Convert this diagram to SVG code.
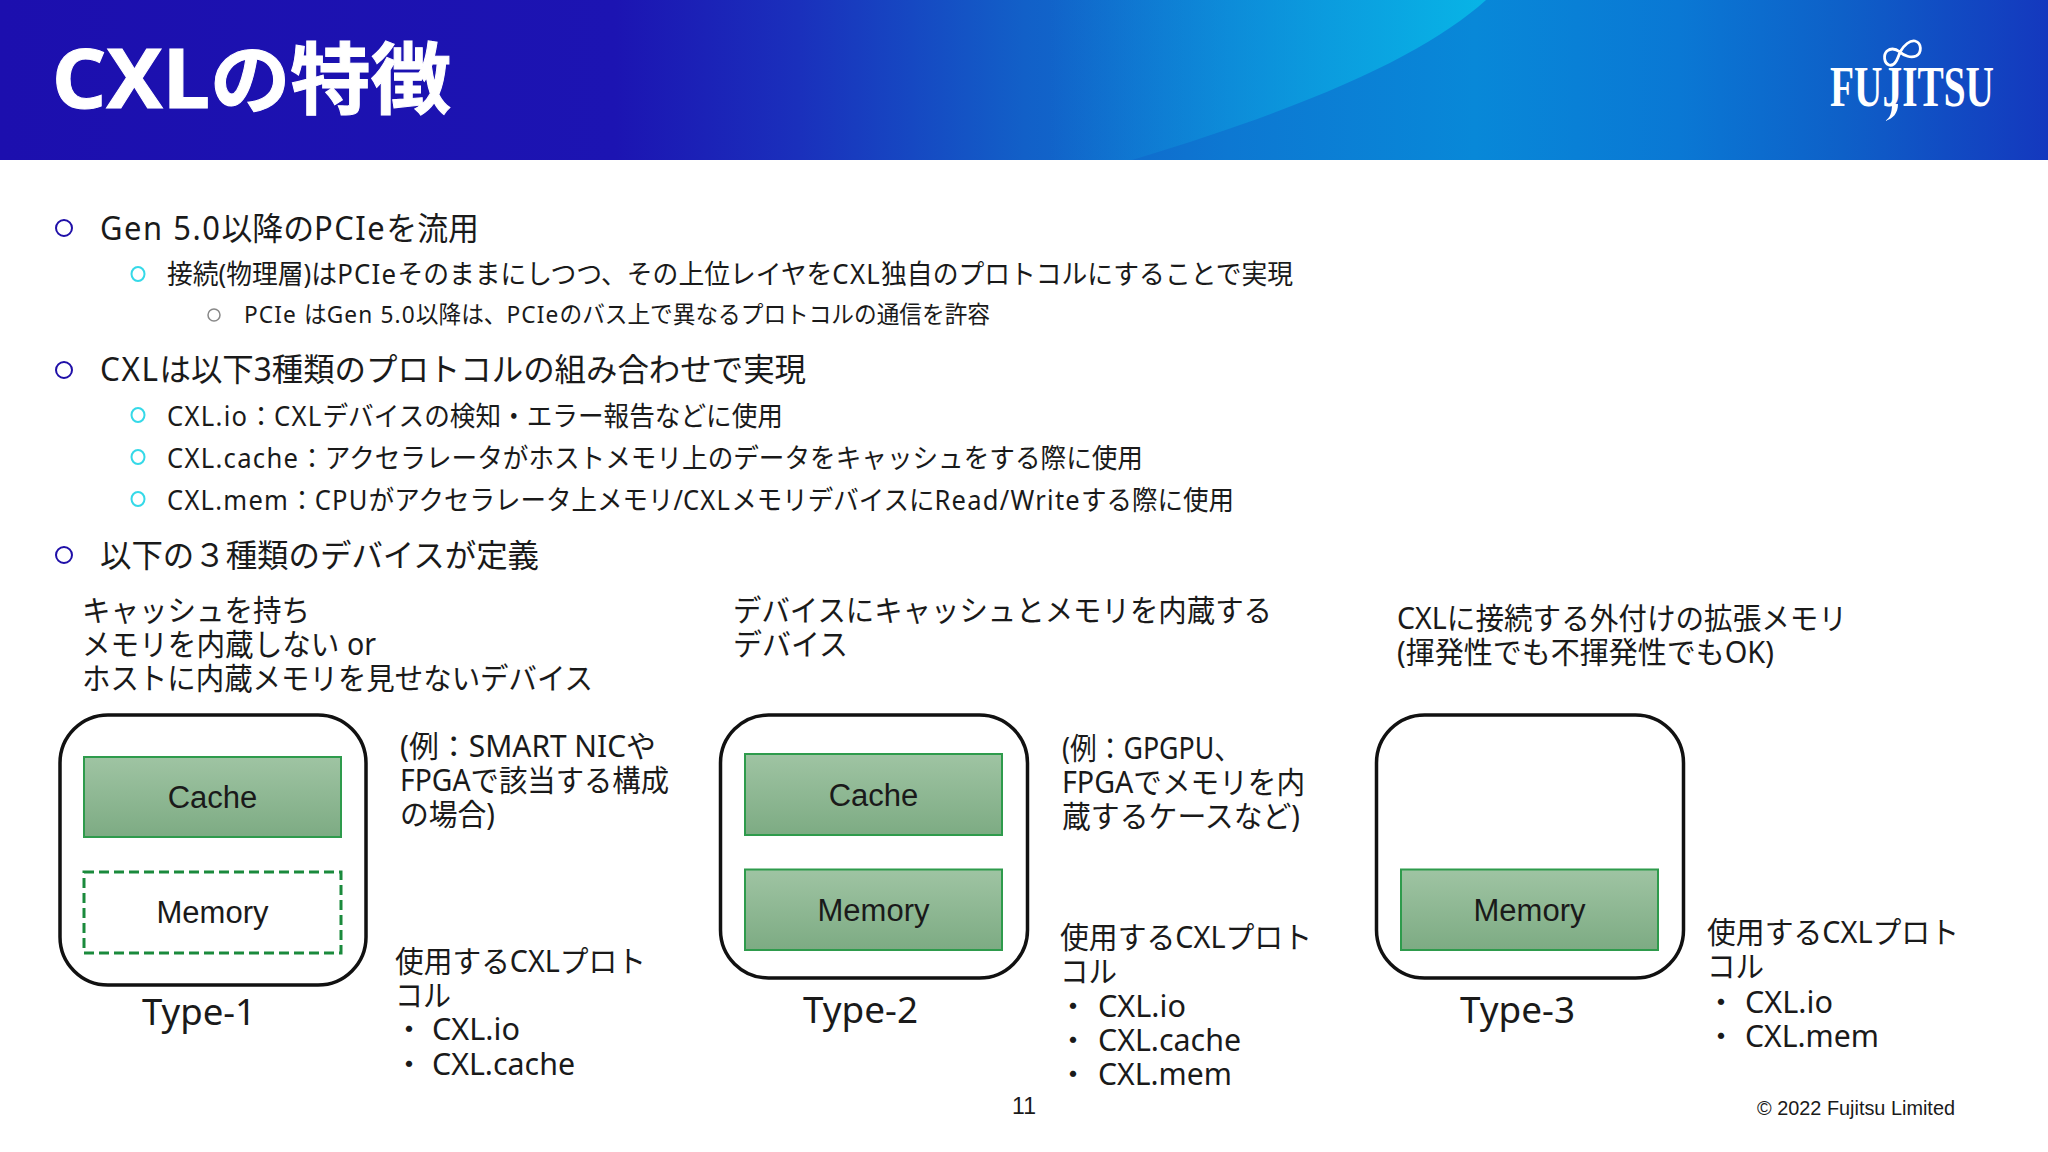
<svg xmlns="http://www.w3.org/2000/svg" width="2048" height="1152" viewBox="0 0 2048 1152">
<defs>
<linearGradient id="hdr" x1="0" y1="0" x2="1" y2="0">
<stop offset="0" stop-color="#1c0fae"/><stop offset="0.3" stop-color="#1c14b2"/><stop offset="0.39" stop-color="#1a30bc"/><stop offset="0.5" stop-color="#1260c8"/><stop offset="0.6" stop-color="#0d78d2"/><stop offset="0.72" stop-color="#0888d8"/><stop offset="0.82" stop-color="#0a78d4"/><stop offset="0.9" stop-color="#0e60c8"/><stop offset="1" stop-color="#1438be"/>
</linearGradient>
<linearGradient id="arc" gradientUnits="userSpaceOnUse" x1="1050" y1="0" x2="1486" y2="0">
<stop offset="0" stop-color="#10a0e0" stop-opacity="0"/><stop offset="1" stop-color="#08b4e6"/>
</linearGradient>
<linearGradient id="green" x1="0" y1="0" x2="0" y2="1">
<stop offset="0" stop-color="#9fc4a3"/><stop offset="1" stop-color="#7dab83"/>
</linearGradient>
</defs>
<style>
text{font-family:"Noto Sans","Noto Sans CJK JP",sans-serif;fill:#1a1a1a}
.t{font-size:30px}
.a{font-size:32px}
.b{font-size:27px}
.c{font-size:24px}
.l{letter-spacing:.05em}
.box{fill:url(#green);stroke:#2e9b4c;stroke-width:2}
.dash{fill:#fff;stroke:#1a8a3c;stroke-width:3;stroke-dasharray:10 5}
.outer{fill:#fff;stroke:#111;stroke-width:3.5}
.lab{font-family:"Liberation Sans",sans-serif;font-size:31px;text-anchor:middle}
.ty{font-size:36px}
.ra{fill:none;stroke:#1f0fa8;stroke-width:2}
.rb{fill:none;stroke:#35d9e8;stroke-width:2}
.rc{fill:none;stroke:#888;stroke-width:1.5}
.foot{font-family:"Liberation Sans",sans-serif;font-size:20px}
</style>
<rect width="2048" height="1152" fill="#fff"/>
<g id="header">
<rect width="2048" height="160" fill="url(#hdr)"/>
<path d="M1486 0C1430 50 1330 100 1132 160H1050V0Z" fill="url(#arc)"/>
<text x="52" y="108" style="font-size:78px;font-weight:700;fill:#fff;stroke:#fff;stroke-width:1" textLength="399" lengthAdjust="spacingAndGlyphs"><tspan style="font-size:82px">CXL</tspan>の特徴</text>
</g>
<g id="logo">
<path d="M1900 52C1904 45 1910 40 1915 41C1922 43 1922 53 1916 56C1911 58 1904 56 1900 52C1896 49 1891 48 1887 51C1883 55 1884 63 1889 65C1895 67 1898 58 1900 52Z" fill="none" stroke="#fff" stroke-width="2.800"/>
<text x="1830" y="106" style="font-family:'Liberation Serif',serif;font-weight:700;font-size:57px;fill:#fff" textLength="164" lengthAdjust="spacingAndGlyphs">FUJITSU</text>
<path d="M1892 104C1892 113 1890 118 1885 121C1893 119 1898 113 1898 104Z" fill="#fff"/>
</g>
<g id="bullets">
<ellipse class="ra" cx="64" cy="228" rx="8" ry="8"/>
<ellipse class="rb" cx="138" cy="274" rx="6.500" ry="7"/>
<ellipse class="rc" cx="214" cy="315" rx="6" ry="6"/>
<ellipse class="ra" cx="64" cy="370" rx="8" ry="8"/>
<ellipse class="rb" cx="138" cy="415" rx="6.500" ry="7"/>
<ellipse class="rb" cx="138" cy="457" rx="6.500" ry="7"/>
<ellipse class="rb" cx="138" cy="499" rx="6.500" ry="7"/>
<ellipse class="ra" cx="64" cy="555" rx="8" ry="8"/>
<text class="a" x="100" y="240" textLength="379" lengthAdjust="spacingAndGlyphs"><tspan class="l">Gen 5.0</tspan>以降の<tspan class="l">PCIe</tspan>を流用</text>
<text class="b" x="167" y="284" textLength="1126" lengthAdjust="spacingAndGlyphs">接続(物理層)は<tspan class="l">PCIe</tspan>そのままにしつつ、その上位レイヤを<tspan class="l">CXL</tspan>独自のプロトコルにすることで実現</text>
<text class="c" x="244" y="323" textLength="746" lengthAdjust="spacingAndGlyphs"><tspan class="l">PCIe </tspan>は<tspan class="l">Gen 5.0</tspan>以降は、<tspan class="l">PCIe</tspan>のバス上で異なるプロトコルの通信を許容</text>
<text class="a" x="100" y="381" textLength="706" lengthAdjust="spacingAndGlyphs"><tspan class="l">CXL</tspan>は以下3種類のプロトコルの組み合わせで実現</text>
<text class="b" x="167" y="426" textLength="616" lengthAdjust="spacingAndGlyphs"><tspan class="l">CXL.io</tspan>：<tspan class="l">CXL</tspan>デバイスの検知・エラー報告などに使用</text>
<text class="b" x="167" y="468" textLength="976" lengthAdjust="spacingAndGlyphs"><tspan class="l">CXL.cache</tspan>：アクセラレータがホストメモリ上のデータをキャッシュをする際に使用</text>
<text class="b" x="167" y="510" textLength="1067" lengthAdjust="spacingAndGlyphs"><tspan class="l">CXL.mem</tspan>：<tspan class="l">CPU</tspan>がアクセラレータ上メモリ/<tspan class="l">CXL</tspan>メモリデバイスに<tspan class="l">Read/Write</tspan>する際に使用</text>
<text class="a" x="100" y="567" textLength="439" lengthAdjust="spacingAndGlyphs">以下の３種類のデバイスが定義</text>
</g>
<g id="type1">
<text class="t" x="82" y="621" textLength="228" lengthAdjust="spacingAndGlyphs">キャッシュを持ち</text>
<text class="t" x="82" y="655" textLength="294" lengthAdjust="spacingAndGlyphs">メモリを内蔵しない or</text>
<text class="t" x="82" y="689" textLength="511" lengthAdjust="spacingAndGlyphs">ホストに内蔵メモリを見せないデバイス</text>
<rect class="outer" x="60" y="715" width="306" height="270" rx="48"/>
<g id="type1-cache"><rect class="box" x="84" y="757" width="257" height="80"/><text class="lab" x="212.500" y="808">Cache</text></g>
<g id="type1-memory"><rect class="dash" x="84" y="872" width="257" height="81"/><text class="lab" x="212.500" y="923">Memory</text></g>
<text class="ty" x="142" y="1025" textLength="114" lengthAdjust="spacingAndGlyphs">Type-1</text>
<text class="t" x="400" y="757" textLength="256" lengthAdjust="spacingAndGlyphs">(例：SMART NICや</text>
<text class="t" x="400" y="791" textLength="269" lengthAdjust="spacingAndGlyphs">FPGAで該当する構成</text>
<text class="t" x="400" y="825" textLength="95" lengthAdjust="spacingAndGlyphs">の場合)</text>
<text class="t" x="395" y="972" textLength="251" lengthAdjust="spacingAndGlyphs">使用するCXLプロト</text>
<text class="t" x="395" y="1006" textLength="56" lengthAdjust="spacingAndGlyphs">コル</text>
<text class="t" x="394" y="1040">・</text><text class="t" x="432" y="1040" textLength="88" lengthAdjust="spacingAndGlyphs">CXL.io</text>
<text class="t" x="394" y="1075">・</text><text class="t" x="432" y="1075" textLength="143" lengthAdjust="spacingAndGlyphs">CXL.cache</text>
</g>
<g id="type2">
<text class="t" x="733" y="621" textLength="539" lengthAdjust="spacingAndGlyphs">デバイスにキャッシュとメモリを内蔵する</text>
<text class="t" x="733" y="655" textLength="115" lengthAdjust="spacingAndGlyphs">デバイス</text>
<rect class="outer" x="720.500" y="715" width="307" height="263" rx="48"/>
<g id="type2-cache"><rect class="box" x="745" y="754" width="257" height="81"/><text class="lab" x="873.500" y="806">Cache</text></g>
<g id="type2-memory"><rect class="box" x="745" y="869.500" width="257" height="80.500"/><text class="lab" x="873.500" y="921">Memory</text></g>
<text class="ty" x="803" y="1023" textLength="115" lengthAdjust="spacingAndGlyphs">Type-2</text>
<text class="t" x="1062" y="759" textLength="179" lengthAdjust="spacingAndGlyphs">(例：GPGPU、</text>
<text class="t" x="1062" y="793" textLength="243" lengthAdjust="spacingAndGlyphs">FPGAでメモリを内</text>
<text class="t" x="1062" y="827" textLength="238" lengthAdjust="spacingAndGlyphs">蔵するケースなど)</text>
<text class="t" x="1060" y="948" textLength="252" lengthAdjust="spacingAndGlyphs">使用するCXLプロト</text>
<text class="t" x="1060" y="982" textLength="57" lengthAdjust="spacingAndGlyphs">コル</text>
<text class="t" x="1058" y="1017">・</text><text class="t" x="1098" y="1017" textLength="88" lengthAdjust="spacingAndGlyphs">CXL.io</text>
<text class="t" x="1058" y="1051">・</text><text class="t" x="1098" y="1051" textLength="143" lengthAdjust="spacingAndGlyphs">CXL.cache</text>
<text class="t" x="1058" y="1085">・</text><text class="t" x="1098" y="1085" textLength="134" lengthAdjust="spacingAndGlyphs">CXL.mem</text>
</g>
<g id="type3">
<text class="t" x="1397" y="629" textLength="450" lengthAdjust="spacingAndGlyphs">CXLに接続する外付けの拡張メモリ</text>
<text class="t" x="1397" y="663" textLength="377" lengthAdjust="spacingAndGlyphs">(揮発性でも不揮発性でもOK)</text>
<rect class="outer" x="1376.500" y="715" width="307" height="263" rx="48"/>
<g id="type3-memory"><rect class="box" x="1401" y="869.500" width="257" height="80.500"/><text class="lab" x="1529.500" y="921">Memory</text></g>
<text class="ty" x="1460" y="1023" textLength="115" lengthAdjust="spacingAndGlyphs">Type-3</text>
<text class="t" x="1707" y="943" textLength="252" lengthAdjust="spacingAndGlyphs">使用するCXLプロト</text>
<text class="t" x="1707" y="977" textLength="57" lengthAdjust="spacingAndGlyphs">コル</text>
<text class="t" x="1706" y="1013">・</text><text class="t" x="1745" y="1013" textLength="88" lengthAdjust="spacingAndGlyphs">CXL.io</text>
<text class="t" x="1706" y="1047">・</text><text class="t" x="1745" y="1047" textLength="134" lengthAdjust="spacingAndGlyphs">CXL.mem</text>
</g>
<g id="footer">
<text class="foot" x="1024" y="1114" text-anchor="middle" style="font-size:23px">11</text>
<text class="foot" x="1757" y="1115" textLength="198" lengthAdjust="spacingAndGlyphs">© 2022 Fujitsu Limited</text>
</g>
</svg>
